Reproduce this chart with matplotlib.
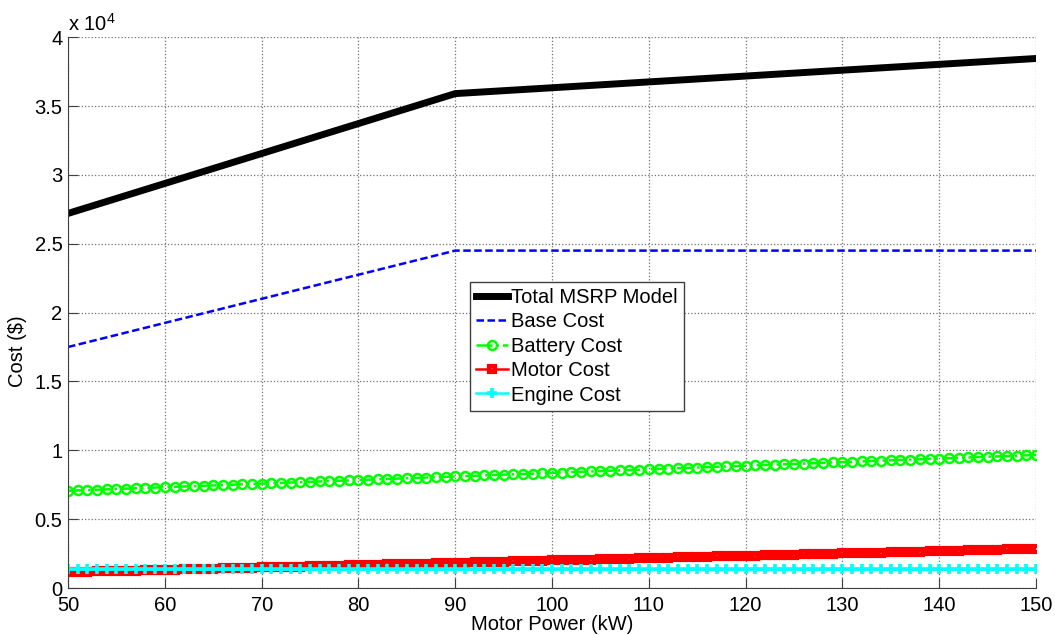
import matplotlib
matplotlib.use("Agg")
import matplotlib.pyplot as plt
from matplotlib.ticker import FuncFormatter, MultipleLocator

plt.rcParams["font.family"] = ["Liberation Sans", "DejaVu Sans"]
plt.rcParams["mathtext.fontset"] = "custom"
plt.rcParams["mathtext.rm"] = "Liberation Sans"
plt.rcParams["mathtext.it"] = "Liberation Sans"

# motor power sweep, 1 kW steps (kW)
power = list(range(50, 151))

# piecewise-linear totals and base cost, at the breakpoints
power_knots = [50, 90, 150]
total_msrp = [27200, 35900, 38450]
base_cost = [17500, 24500, 24500]

# component costs ($), one value per kW
battery_cost = [
    7060, 7086, 7112, 7138, 7164, 7190, 7216, 7242, 7268, 7294,
    7320, 7346, 7372, 7398, 7424, 7450, 7476, 7502, 7528, 7554,
    7580, 7606, 7632, 7658, 7684, 7710, 7736, 7762, 7788, 7814,
    7840, 7866, 7892, 7918, 7944, 7970, 7996, 8022, 8048, 8074,
    8100, 8126, 8152, 8178, 8204, 8230, 8256, 8282, 8308, 8334,
    8360, 8386, 8412, 8438, 8464, 8490, 8516, 8542, 8568, 8594,
    8620, 8646, 8672, 8698, 8724, 8750, 8776, 8802, 8828, 8854,
    8880, 8906, 8932, 8958, 8984, 9010, 9036, 9062, 9088, 9114,
    9140, 9166, 9192, 9218, 9244, 9270, 9296, 9322, 9348, 9374,
    9400, 9426, 9452, 9478, 9504, 9530, 9556, 9582, 9608, 9634,
    9660,
]
motor_cost = [
    1150, 1167, 1184, 1201, 1218, 1235, 1252, 1269, 1286, 1303,
    1320, 1337, 1354, 1371, 1388, 1405, 1422, 1439, 1456, 1473,
    1490, 1507, 1524, 1541, 1558, 1575, 1592, 1609, 1626, 1643,
    1660, 1677, 1694, 1711, 1728, 1745, 1762, 1779, 1796, 1813,
    1830, 1847, 1864, 1881, 1898, 1915, 1932, 1949, 1966, 1983,
    2000, 2017, 2034, 2051, 2068, 2085, 2102, 2119, 2136, 2153,
    2170, 2187, 2204, 2221, 2238, 2255, 2272, 2289, 2306, 2323,
    2340, 2357, 2374, 2391, 2408, 2425, 2442, 2459, 2476, 2493,
    2510, 2527, 2544, 2561, 2578, 2595, 2612, 2629, 2646, 2663,
    2680, 2697, 2714, 2731, 2748, 2765, 2782, 2799, 2816, 2833,
    2850,
]
engine_cost = [
    1400, 1400, 1400, 1400, 1400, 1400, 1400, 1400, 1400, 1400,
    1400, 1400, 1400, 1400, 1400, 1400, 1400, 1400, 1400, 1400,
    1400, 1400, 1400, 1400, 1400, 1400, 1400, 1400, 1400, 1400,
    1400, 1400, 1400, 1400, 1400, 1400, 1400, 1400, 1400, 1400,
    1400, 1400, 1400, 1400, 1400, 1400, 1400, 1400, 1400, 1400,
    1400, 1400, 1400, 1400, 1400, 1400, 1400, 1400, 1400, 1400,
    1400, 1400, 1400, 1400, 1400, 1400, 1400, 1400, 1400, 1400,
    1400, 1400, 1400, 1400, 1400, 1400, 1400, 1400, 1400, 1400,
    1400, 1400, 1400, 1400, 1400, 1400, 1400, 1400, 1400, 1400,
    1400, 1400, 1400, 1400, 1400, 1400, 1400, 1400, 1400, 1400,
    1400,
]

fig = plt.figure(figsize=(10.55, 6.35), dpi=100)
ax = fig.add_axes([0.0645, 0.074, 0.9175, 0.8675])

ax.plot(power_knots, total_msrp, color="k", lw=5, label="Total MSRP Model")
ax.plot(power_knots, base_cost, color="b", lw=1.8, ls="--", dashes=(3, 1.4),
        label="Base Cost")
ax.plot(power, battery_cost, color="#00ff00", lw=1.8, ls="-.", marker="o",
        ms=6.5, mfc="none", mew=1.8, label="Battery Cost")
ax.plot(power, motor_cost, color="r", lw=1.8, marker="s", ms=5, mfc="none",
        mew=3, label="Motor Cost")
ax.plot(power, engine_cost, color="#00ffff", lw=1.8, marker="+", ms=6.5,
        mew=2.6, label="Engine Cost")

ax.set_xlim(50, 150)
ax.set_ylim(0, 40000)
ax.xaxis.set_major_locator(MultipleLocator(10))
ax.yaxis.set_major_locator(MultipleLocator(5000))
ax.yaxis.set_major_formatter(FuncFormatter(lambda v, p: "%g" % (v / 1e4)))

ax.grid(True, ls=":", color="#707070", lw=0.9)
for side in ["top", "right"]:
    ax.spines[side].set_visible(False)
for side in ["left", "bottom"]:
    ax.spines[side].set_color("#404040")
ax.tick_params(direction="in", length=7, color="#404040", labelsize=14.5)
ax.tick_params(axis="x", pad=6)
ax.tick_params(axis="y", pad=4)

ax.text(0.0, 1.005, r"x 10$^{4}$", transform=ax.transAxes, fontsize=14.5,
        ha="left", va="bottom")

ax.set_xlabel("Motor Power (kW)", fontsize=14.5, labelpad=0)
ax.set_ylabel("Cost (\\$)", fontsize=14.5)
ax.yaxis.set_label_coords(-0.042, 0.43)

leg = ax.legend(loc="upper left", bbox_to_anchor=(0.415, 0.556),
                fontsize=14.5, fancybox=False, framealpha=1,
                edgecolor="#404040", borderpad=0.3, labelspacing=0.27,
                handlelength=1.6, handletextpad=0.15, borderaxespad=0)
leg.get_frame().set_linewidth(1.0)

fig.savefig("out.png", dpi=100)
